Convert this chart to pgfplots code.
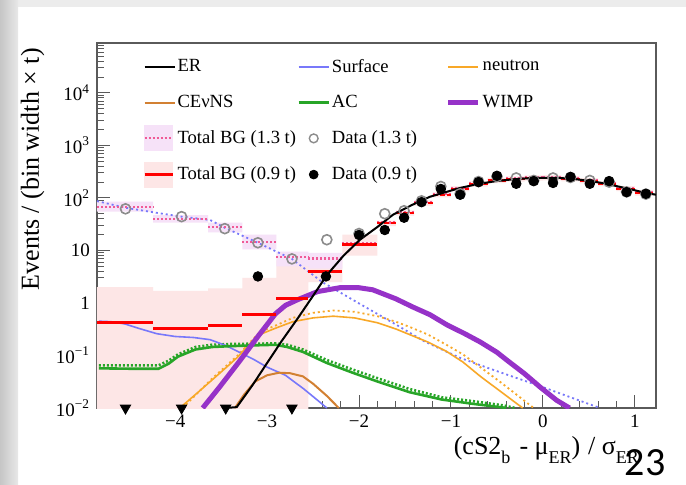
\documentclass[border=0pt]{standalone}
\usepackage{pgfplots}
\pgfplotsset{compat=1.18}
\usepackage{fontspec}
\setmainfont{Liberation Serif}
\newfontfamily\slidefont{Carlito}
\definecolor{cSurf}{RGB}{120,120,250}
\definecolor{cNeut}{RGB}{248,168,40}
\definecolor{cCev}{RGB}{210,128,50}
\definecolor{cAC}{RGB}{40,165,40}
\definecolor{cWimp}{RGB}{150,50,200}
\definecolor{cTot}{RGB}{240,90,150}
\definecolor{cBandA}{RGB}{246,226,248}
\definecolor{cBandB}{RGB}{253,230,230}
\definecolor{cD13}{RGB}{140,140,140}
\definecolor{cFrame}{RGB}{90,90,90}
\newcommand{\sub}[1]{\raisebox{-0.7ex}{\fontsize{9}{10}\selectfont #1}}
\newcommand{\lga}[1]{\makebox[61pt][l]{\hspace{1pt}#1}}
\newcommand{\lgb}[1]{\makebox[58pt][l]{\hspace{1pt}#1}}
\newcommand{\lgc}[1]{\hspace{1pt}#1}
\pgfplotsset{legend image code/.code={\path[draw=none,fill=none] (0pt,-6.25pt) -- (0pt,6.25pt); \draw[mark repeat=2,mark phase=2,#1] plot coordinates {(0pt,0pt) (7.5pt,0pt) (15pt,0pt)};}}
\pgfplotsset{
  bandA legend/.style={legend image code/.code={\fill[cBandA] (0pt,-6.25pt) rectangle (14pt,6.25pt); \draw[cTot, line width=1pt, dash pattern=on 1pt off 1pt] (0pt,0pt) -- (14pt,0pt);}},
  bandB legend/.style={legend image code/.code={\fill[cBandB] (0pt,-6.25pt) rectangle (14pt,6.25pt); \draw[red, line width=1.5pt] (0pt,0pt) -- (14pt,0pt);}},
}
\begin{document}
\begin{tikzpicture}
\fill[white] (0pt,0pt) rectangle (343pt,242pt);
\useasboundingbox (0pt,0pt) rectangle (343pt,242pt);
\fill[gray!15] (0pt,238.5pt) rectangle (343pt,242pt);
\shade[left color=gray!45, right color=gray!18] (0pt,0pt) rectangle (9pt,242pt);
\begin{axis}[
  at={(48.5pt,38pt)}, anchor=south west,
  scale only axis, width=279.5pt, height=182.5pt,
  xmin=-4.85, xmax=1.23,
  ymode=log, ymin=0.01, ymax=89000,
  axis line style={cFrame, line width=0.7pt},
  tick align=inside, tick pos=left,
  major tick length=6.5pt, minor tick length=3.5pt,
  every tick/.style={cFrame, line width=0.5pt},
  xtick={-4,-3,-2,-1,0,1},
  xticklabels={−4,−3,−2,−1,0,1},
  minor x tick num=4,
  ytick={0.01,0.1,1,10,100,1000,10000},
  yticklabels={10\textsuperscript{−2},10\textsuperscript{−1},1,10,10\textsuperscript{2},10\textsuperscript{3},10\textsuperscript{4}},
  minor ytick={0.02,0.03,0.04,0.05,0.06,0.07,0.08,0.09,0.2,0.3,0.4,0.5,0.6,0.7,0.8,0.9,2,3,4,5,6,7,8,9,20,30,40,50,60,70,80,90,200,300,400,500,600,700,800,900,2000,3000,4000,5000,6000,7000,8000,9000,20000,30000,40000,50000,60000,70000,80000},
  ticklabel style={font=\fontsize{9.5}{11}\selectfont},
  xlabel={(cS2\sub{b}\hspace{0.35em}-\hspace{0.25em}μ\sub{ER})\hspace{0.3em}/\hspace{0.25em}σ\sub{ER}},
  xlabel style={at={(rel axis cs:0.982,0)}, anchor=east, yshift=-21pt, font=\fontsize{13}{15}\selectfont},
  ylabel={Events / (bin width × t)},
  ylabel style={at={(rel axis cs:-0.115,1.005)}, anchor=east, font=\fontsize{13}{15}\selectfont},
  legend columns=3,
  legend cell align=left,
  legend style={draw=none, fill=none, at={(rel axis cs:0.0823,0.968)}, anchor=north west,
    inner sep=0pt, outer sep=0pt, column sep=0pt, row sep=5.2pt,
    font=\fontsize{9.3}{10}\selectfont, nodes={inner sep=0pt, outer sep=0pt}},
  unbounded coords=jump,
]
% ---- legend entries
\addlegendimage{black, line width=1pt}\addlegendentry{\lga{ER}}
\addlegendimage{cSurf, line width=0.8pt}\addlegendentry{\lgb{Surface}}
\addlegendimage{cNeut, line width=0.8pt}\addlegendentry{\lgc{neutron}}
\addlegendimage{cCev, line width=1pt}\addlegendentry{\lga{CEνNS}}
\addlegendimage{cAC, line width=1.2pt}\addlegendentry{\lgb{AC}}
\addlegendimage{cWimp, line width=2.4pt}\addlegendentry{\lgc{WIMP}}
\addlegendimage{bandA legend}\addlegendentry{\lga{Total BG (1.3 t)}}
\addlegendimage{only marks, mark=o, mark size=2.2pt, mark options={cD13, line width=0.7pt}}\addlegendentry{\lgb{Data (1.3 t)}}
\addlegendimage{empty legend}\addlegendentry{}
\addlegendimage{bandB legend}\addlegendentry{\lga{Total BG (0.9 t)}}
\addlegendimage{only marks, mark=*, mark size=2.2pt, mark options={black}}\addlegendentry{\lgb{Data (0.9 t)}}
\addlegendimage{empty legend}\addlegendentry{}

% ---- Total BG (0.9 t) band
\addplot[fill=cBandB, draw=none, forget plot] coordinates {
(-4.85,0.001)(-4.85,2.0)(-4.24,2.0)(-4.24,1.7)(-3.64,1.7)(-3.64,1.9)(-3.27,1.9)(-3.27,3.0)(-2.90,3.0)(-2.90,6.5)(-2.55,6.5)(-2.55,0.001)(-2.55,nan)
(-2.55,2.5)(-2.55,7.0)(-2.18,7.0)(-2.18,2.5)(-2.18,nan)
(-2.18,8)(-2.18,20)(-1.80,20)(-1.80,8)(-1.80,nan)
(-1.80,29)(-1.80,37)(-1.60,37)(-1.60,29)(-1.60,nan)
(-1.60,46)(-1.60,58)(-1.40,58)(-1.40,46)(-1.40,nan)
(-1.40,71)(-1.40,90)(-1.20,90)(-1.20,71)(-1.20,nan)
(-1.20,102)(-1.20,129)(-1.00,129)(-1.00,102)(-1.00,nan)
(-1.00,133)(-1.00,168)(-0.80,168)(-0.80,133)(-0.80,nan)
(-0.80,164)(-0.80,207)(-0.60,207)(-0.60,164)(-0.60,nan)
(-0.60,191)(-0.60,241)(-0.40,241)(-0.40,191)(-0.40,nan)
(-0.40,205)(-0.40,258)(-0.20,258)(-0.20,205)(-0.20,nan)
(-0.20,214)(-0.20,269)(0.00,269)(0.00,214)(0.00,nan)
(0.00,215)(0.00,271)(0.20,271)(0.20,215)(0.20,nan)
(0.20,206)(0.20,260)(0.40,260)(0.40,206)(0.40,nan)
(0.40,189)(0.40,237)(0.60,237)(0.60,189)(0.60,nan)
(0.60,165)(0.60,207)(0.80,207)(0.80,165)(0.80,nan)
(0.80,134)(0.80,168)(1.00,168)(1.00,134)(1.00,nan)
(1.00,111)(1.00,140)(1.20,140)(1.20,111)
};
% ---- Total BG (1.3 t) band
\addplot[fill=cBandA, draw=none, forget plot] coordinates {
(-4.85,55)(-4.85,85)(-4.24,85)(-4.24,55)(-4.24,nan)
(-4.24,34)(-4.24,47)(-3.64,47)(-3.64,34)(-3.64,nan)
(-3.64,22)(-3.64,34)(-3.27,34)(-3.27,22)(-3.27,nan)
(-3.27,10.5)(-3.27,20)(-2.90,20)(-2.90,10.5)(-2.90,nan)
(-2.90,5)(-2.90,9.5)(-2.55,9.5)(-2.55,5)(-2.55,nan)
(-2.55,4.5)(-2.55,9)(-2.18,9)(-2.18,4.5)
};
% ---- dotted (1.3 t) components
\addplot[cSurf, line width=0.9pt, dash pattern=on 1pt off 1.5pt, forget plot] coordinates {
(-4.85,87)(-4.54,65)(-4.20,52)(-3.93,44)(-3.62,38)(-3.46,27)(-3.10,14)(-2.73,6.9)(-2.40,2.5)(-2.00,0.98)(-1.60,0.39)(-1.30,0.19)(-1.10,0.13)(-0.90,0.09)(-0.60,0.058)(-0.30,0.038)(0.00,0.025)(0.30,0.016)(0.62,0.010)
};
\addplot[cNeut, line width=0.9pt, dash pattern=on 1pt off 1.5pt, forget plot] coordinates {
(-3.92,0.010)(-3.60,0.036)(-3.32,0.10)(-3.08,0.28)(-2.91,0.37)(-2.72,0.52)(-2.50,0.65)(-2.28,0.72)(-2.05,0.68)(-1.80,0.56)(-1.60,0.44)(-1.45,0.35)(-1.25,0.25)(-1.05,0.16)(-0.87,0.105)(-0.68,0.060)(-0.45,0.030)(-0.25,0.016)(-0.10,0.010)
};
\addplot[cAC, line width=1.3pt, dash pattern=on 1pt off 1pt, forget plot] coordinates {
(-4.83,0.065)(-4.18,0.065)(-4.07,0.080)(-3.97,0.105)(-3.78,0.145)(-3.60,0.16)(-3.42,0.165)(-2.91,0.17)(-2.78,0.16)(-2.61,0.13)(-2.35,0.082)(-2.07,0.054)(-1.80,0.037)(-1.45,0.023)(-1.10,0.016)(-0.76,0.0135)(-0.43,0.0112)(-0.30,0.0100)
};
% ---- Total BG (1.3 t) dotted steps
\addplot[cTot, line width=1.2pt, dash pattern=on 1pt off 1pt, forget plot] coordinates {
(-4.85,68)(-4.24,68)(-4.24,nan)(-4.24,40)(-3.64,40)(-3.64,nan)(-3.64,28)(-3.27,28)(-3.27,nan)
(-3.27,14.5)(-2.90,14.5)(-2.90,nan)(-2.90,7.5)(-2.55,7.5)(-2.55,nan)(-2.55,7.0)(-2.18,7.0)(-2.18,nan)
(-2.18,13.5)(-1.80,13.5)(-1.80,nan)(-1.80,34)(-1.60,34)(-1.60,nan)(-1.60,54)(-1.40,54)(-1.40,nan)
(-1.40,83)(-1.20,83)(-1.20,nan)(-1.20,118)(-1.00,118)(-1.00,nan)(-1.00,154)(-0.80,154)(-0.80,nan)
(-0.80,190)(-0.60,190)(-0.60,nan)(-0.60,220)(-0.40,220)(-0.40,nan)(-0.40,236)(-0.20,236)(-0.20,nan)
(-0.20,246)(0.00,246)(0.00,nan)(0.00,248)(0.20,248)(0.20,nan)(0.20,238)(0.40,238)(0.40,nan)
(0.40,217)(0.60,217)(0.60,nan)(0.60,190)(0.80,190)(0.80,nan)(0.80,154)(1.00,154)(1.00,nan)(1.00,128)(1.20,128)
};
% ---- solid (0.9 t) components
\addplot[cSurf, line width=0.8pt, forget plot] coordinates {
(-4.83,0.45)(-4.70,0.44)(-4.55,0.40)(-4.40,0.33)(-4.20,0.26)(-4.00,0.23)(-3.80,0.22)(-3.62,0.20)(-3.45,0.155)(-3.30,0.115)(-3.15,0.085)(-3.00,0.060)(-2.80,0.042)(-2.60,0.023)(-2.45,0.014)(-2.35,0.010)
};
\addplot[cCev, line width=1pt, forget plot] coordinates {
(-3.35,0.010)(-3.25,0.018)(-3.13,0.032)(-3.00,0.042)(-2.87,0.047)(-2.75,0.046)(-2.61,0.040)(-2.50,0.029)(-2.35,0.017)(-2.22,0.010)
};
\addplot[cNeut, line width=0.8pt, forget plot] coordinates {
(-3.95,0.010)(-3.75,0.020)(-3.60,0.034)(-3.45,0.058)(-3.32,0.093)(-3.20,0.16)(-3.08,0.25)(-2.91,0.33)(-2.72,0.44)(-2.50,0.52)(-2.28,0.56)(-2.05,0.52)(-1.80,0.42)(-1.60,0.32)(-1.45,0.25)(-1.25,0.18)(-1.05,0.12)(-0.87,0.075)(-0.68,0.040)(-0.45,0.020)(-0.22,0.010)
};
\addplot[cAC, line width=1.3pt, forget plot] coordinates {
(-4.83,0.057)(-4.50,0.056)(-4.18,0.056)(-4.07,0.070)(-3.97,0.095)(-3.78,0.13)(-3.60,0.145)(-3.42,0.15)(-3.20,0.155)(-2.91,0.16)(-2.78,0.145)(-2.61,0.117)(-2.35,0.072)(-2.07,0.047)(-1.80,0.032)(-1.45,0.020)(-1.10,0.0145)(-0.76,0.012)(-0.43,0.0102)(-0.40,0.0100)
};
\addplot[cWimp, line width=2.5pt, forget plot] coordinates {
(-3.70,0.010)(-3.51,0.026)(-3.29,0.082)(-3.10,0.23)(-2.91,0.62)(-2.80,0.90)(-2.67,1.15)(-2.45,1.65)(-2.21,1.95)(-2.00,1.95)(-1.85,1.78)(-1.60,1.2)(-1.41,0.83)(-1.23,0.6)(-1.04,0.38)(-0.85,0.26)(-0.68,0.18)(-0.50,0.115)(-0.39,0.081)(-0.20,0.045)(-0.03,0.025)(0.15,0.014)(0.29,0.010)
};
% ---- Total BG (0.9 t) steps
\addplot[red, line width=1.5pt, forget plot] coordinates {
(-4.85,0.42)(-4.24,0.42)(-4.24,nan)(-4.24,0.33)(-3.64,0.33)(-3.64,nan)(-3.64,0.38)(-3.27,0.38)(-3.27,nan)
(-3.27,0.59)(-2.90,0.59)(-2.90,nan)(-2.90,1.19)(-2.55,1.19)(-2.55,nan)(-2.55,3.9)(-2.18,3.9)(-2.18,nan)
(-2.18,13.2)(-1.80,13.2)
};
\addplot[red, line width=1.1pt, dash pattern=on 2.5pt off 1pt, forget plot] coordinates {
(-1.80,33)(-1.60,33)(-1.60,nan)(-1.60,52)(-1.40,52)(-1.40,nan)
(-1.40,80)(-1.20,80)(-1.20,nan)(-1.20,115)(-1.00,115)(-1.00,nan)(-1.00,150)(-0.80,150)(-0.80,nan)
(-0.80,185)(-0.60,185)(-0.60,nan)(-0.60,215)(-0.40,215)(-0.40,nan)(-0.40,230)(-0.20,230)(-0.20,nan)
(-0.20,240)(0.00,240)(0.00,nan)(0.00,242)(0.20,242)(0.20,nan)(0.20,232)(0.40,232)(0.40,nan)
(0.40,212)(0.60,212)(0.60,nan)(0.60,185)(0.80,185)(0.80,nan)(0.80,150)(1.00,150)(1.00,nan)(1.00,125)(1.20,125)
};
% ---- ER
\addplot[black, line width=1pt, forget plot] coordinates {
(-3.45,0.0100)(-3.33,0.0104)(-3.16,0.027)(-3.00,0.072)(-2.84,0.19)(-2.67,0.50)(-2.51,1.29)(-2.35,3.4)(-2.17,7.9)(-1.99,16)(-1.80,28)(-1.63,48)(-1.42,74)(-1.23,105)(-1.05,130)(-0.90,155)(-0.70,185)(-0.50,210)(-0.30,228)(-0.14,238)(0.02,242)(0.18,240)(0.35,228)(0.51,210)(0.68,188)(0.84,162)(1.00,140)(1.11,125)(1.23,115)
};
% ---- Data (1.3 t)
\addplot[only marks, mark=o, mark size=2.5pt, mark options={cD13, line width=0.8pt}, forget plot] coordinates {
(-4.54,62)(-3.93,44)(-3.46,26)(-3.10,14)(-2.73,6.9)(-2.35,16)(-2.00,21)(-1.72,50)(-1.51,57)(-1.32,88)(-1.11,165)(-0.90,120)(-0.70,205)(-0.50,255)(-0.29,240)(-0.10,215)(0.11,240)(0.30,245)(0.51,215)(0.72,200)(0.91,130)(1.12,118)
};
% ---- Data (0.9 t)
\addplot[only marks, mark=*, mark size=2.4pt, mark options={black}, forget plot] coordinates {
(-3.10,3.2)(-2.36,3.2)(-2.00,19.7)(-1.72,24.5)(-1.51,42)(-1.32,83)(-1.11,148)(-0.90,115)(-0.70,200)(-0.50,263)(-0.29,186)(-0.10,209)(0.11,193)(0.30,251)(0.51,186)(0.72,209)(0.91,129)(1.12,120)
};
\addplot[only marks, mark=triangle*, mark size=3pt, mark options={black, rotate=180}, forget plot] coordinates {
(-4.54,0.01)(-3.93,0.01)(-3.45,0.01)(-2.73,0.01)
};
\end{axis}
\node[font=\slidefont\fontsize{20}{24}\selectfont, anchor=center, inner sep=0pt] at (322.5pt,10.5pt) {23};
\end{tikzpicture}
\end{document}
